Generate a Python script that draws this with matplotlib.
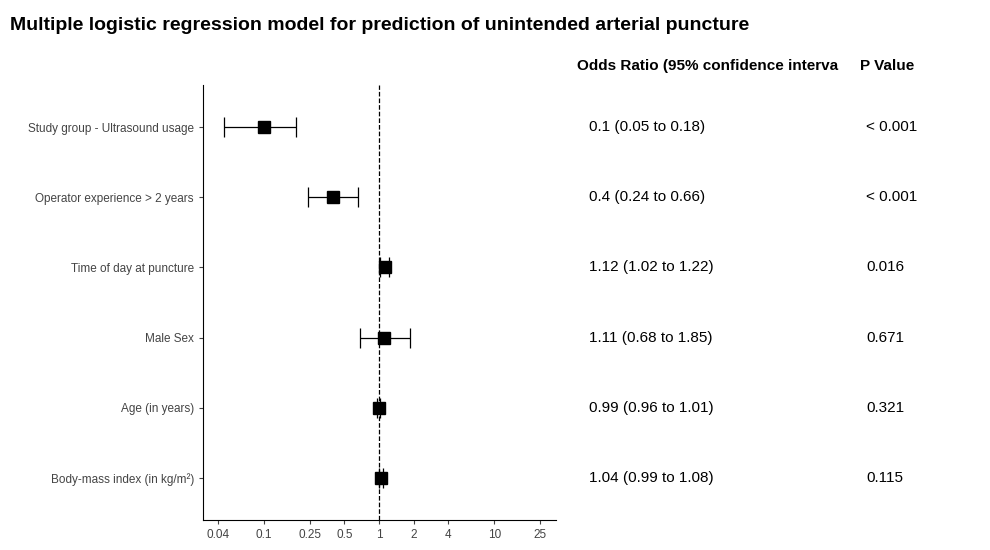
import matplotlib.pyplot as plt
import matplotlib.transforms as mtransforms
import numpy as np

plt.rcParams['font.family'] = ['Liberation Sans', 'DejaVu Sans']

labels = ["Study group - Ultrasound usage", "Operator experience > 2 years",
          "Time of day at puncture", "Male Sex", "Age (in years)",
          "Body-mass index (in kg/m²)"]
odds = [0.1, 0.4, 1.12, 1.11, 0.99, 1.04]
low = [0.045, 0.24, 1.02, 0.68, 0.96, 0.99]
high = [0.19, 0.66, 1.22, 1.85, 1.01, 1.08]
or_text = ["0.1 (0.05 to 0.18)", "0.4 (0.24 to 0.66)", "1.12 (1.02 to 1.22)",
           "1.11 (0.68 to 1.85)", "0.99 (0.96 to 1.01)", "1.04 (0.99 to 1.08)"]
p_text = ["< 0.001", "< 0.001", "0.016", "0.671", "0.321", "0.115"]
xticks = [0.04, 0.1, 0.25, 0.5, 1, 2, 4, 10, 25]
xticklabels = ["0.04", "0.1", "0.25", "0.5", "1", "2", "4", "10", "25"]

fig = plt.figure(figsize=(9.9, 5.5), dpi=100)
ax = fig.add_axes([0.205, 0.0545, 0.3566, 0.791])
y = np.arange(len(labels))[::-1]
odds = np.array(odds)
err = [odds - np.array(low), np.array(high) - odds]
ax.errorbar(odds, y, xerr=err, fmt="s", color="black", markersize=8,
            capsize=7, elinewidth=0.9, capthick=0.9)
ax.axvline(1, color="black", linestyle="--", linewidth=0.9)
ax.set_xscale("log")
ax.set_xlim(0.0296, 34.4)
ax.set_ylim(-0.6, 5.6)
ax.set_xticks(xticks)
ax.set_xticklabels(xticklabels, fontsize=8.5, color="#444444")
ax.minorticks_off()
ax.set_yticks(y)
ax.set_yticklabels(labels, fontsize=8.5, color="#444444")
ax.tick_params(length=3, color="#444444")
for s in ["top", "right"]:
    ax.spines[s].set_visible(False)

tr = mtransforms.blended_transform_factory(fig.transFigure, ax.transData)
for yi, t1, t2 in zip(y, or_text, p_text):
    ax.text(589 / 990, yi, t1, transform=tr, fontsize=11, va="center")
    ax.text(866 / 990, yi, t2, transform=tr, fontsize=11, va="center")

fig.text(577 / 990, 1 - 66 / 550, "Odds Ratio (95% confidence interva", fontsize=11,
         fontweight="bold", va="center")
fig.text(860 / 990, 1 - 66 / 550, "P Value", fontsize=11, fontweight="bold", va="center")
fig.text(10 / 990, 1 - 26 / 550, "Multiple logistic regression model for prediction of unintended arterial puncture",
         fontsize=14, fontweight="bold", va="center")

fig.savefig("out.png")
